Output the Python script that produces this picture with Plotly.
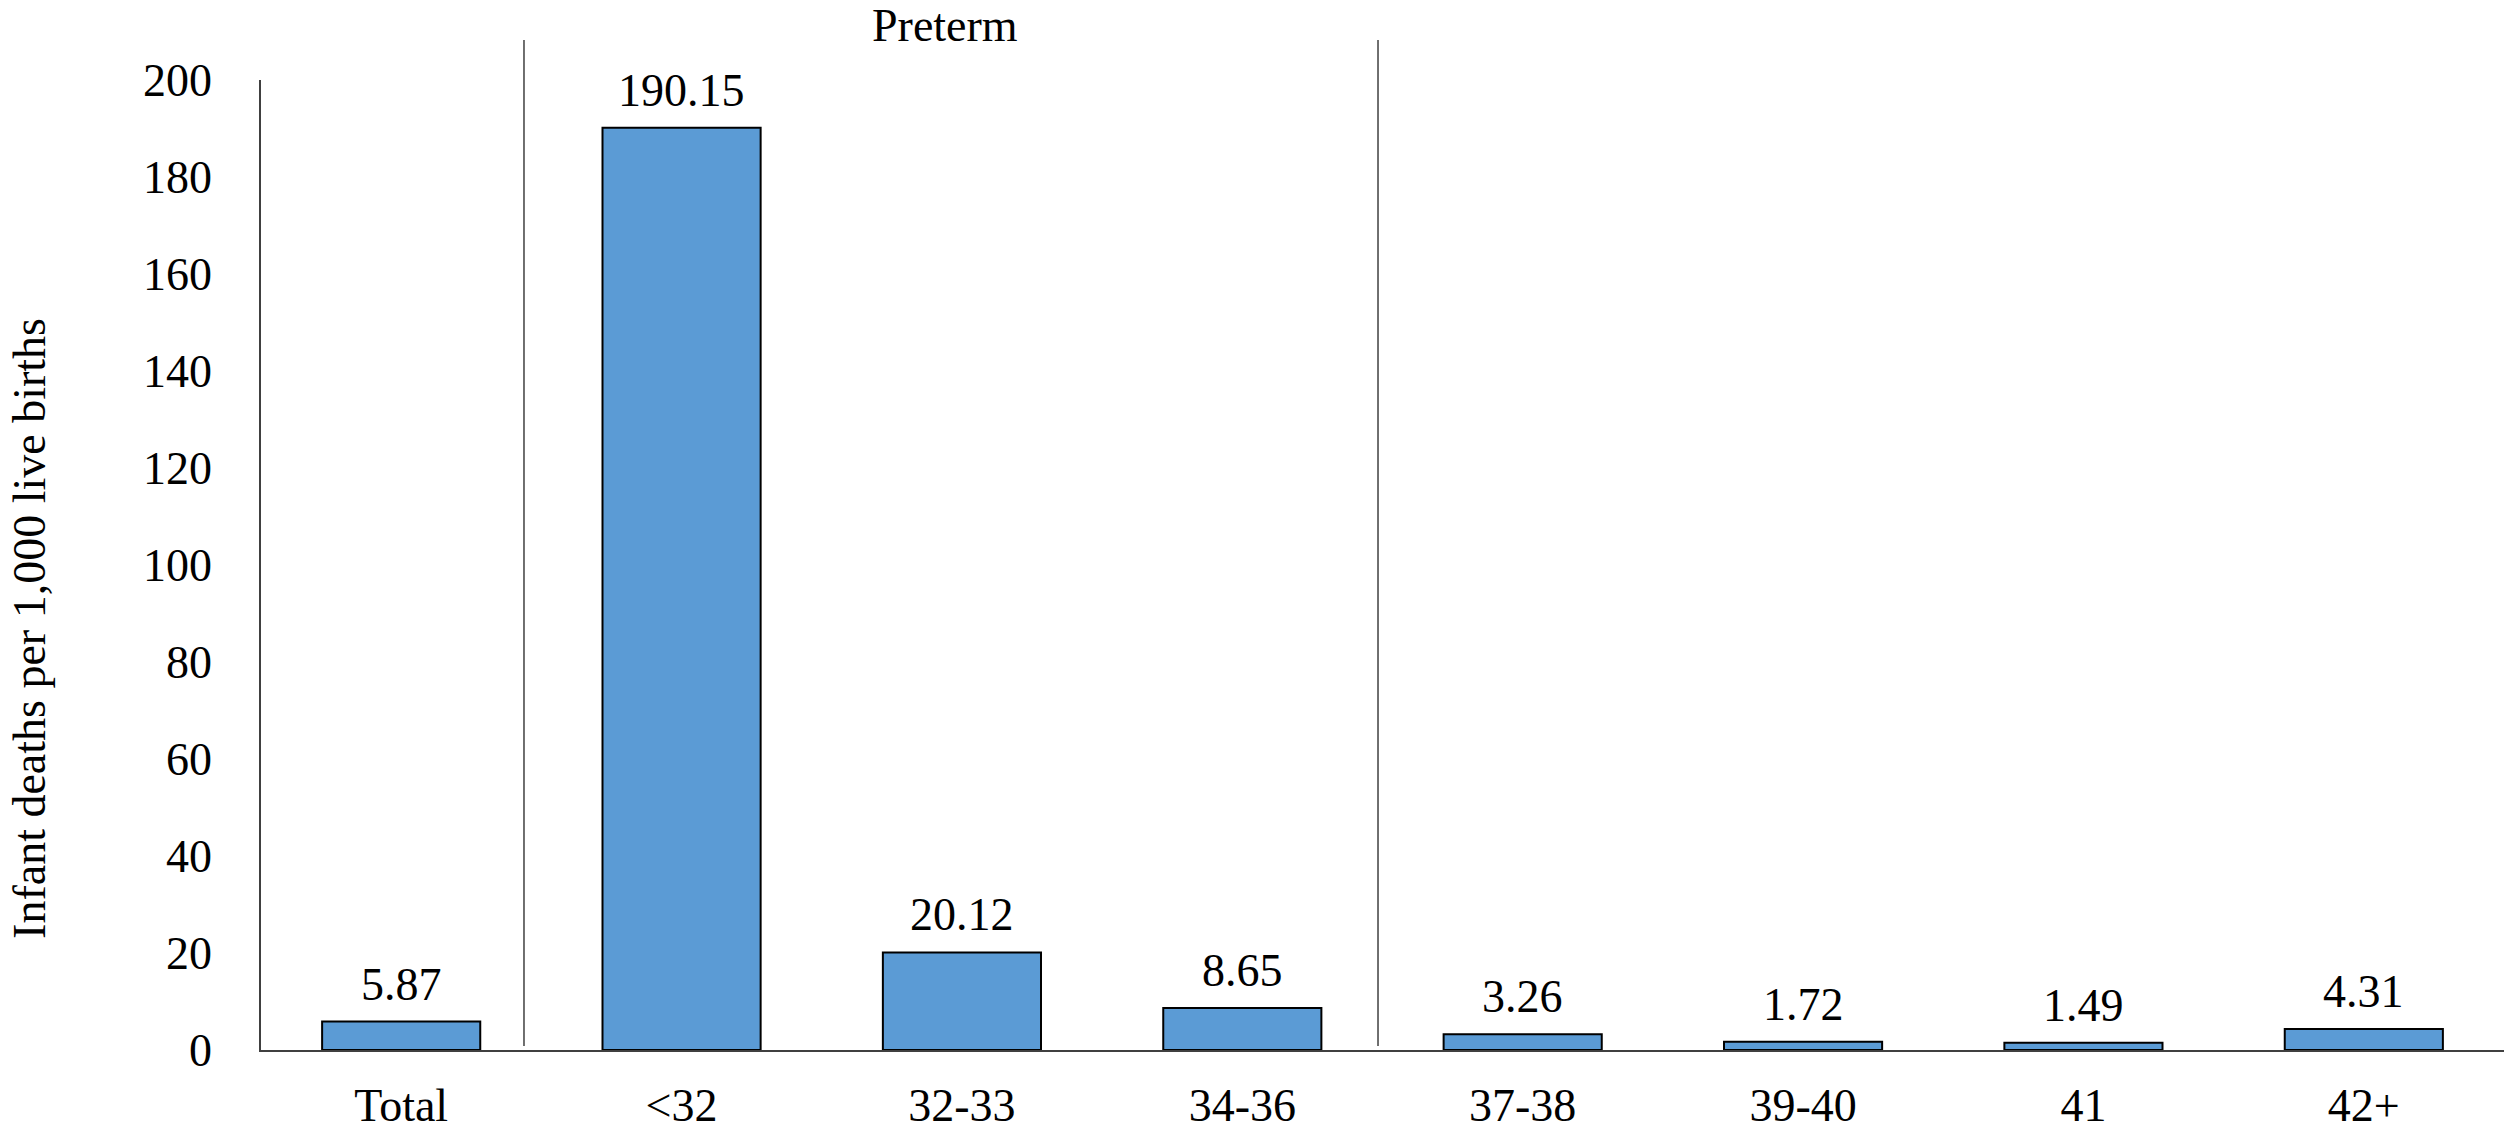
import plotly.graph_objects as go

# Infant mortality rate by gestational age (weeks)
categories = ["Total", "<32", "32-33", "34-36", "37-38", "39-40", "41", "42+"]
rates = [5.87, 190.15, 20.12, 8.65, 3.26, 1.72, 1.49, 4.31]
y_ticks = [0, 20, 40, 60, 80, 100, 120, 140, 160, 180, 200]

FONT = "Liberation Serif, Times New Roman, serif"
FS = 46

fig = go.Figure()
fig.add_trace(go.Bar(
    x=categories,
    y=rates,
    marker=dict(color="#5B9BD5", line=dict(color="#000000", width=2)),
    showlegend=False,
    hoverinfo="x+y",
))

# value labels above each bar (positioned by category index)
for i, v in enumerate(rates):
    fig.add_annotation(
        x=i, y=v, xref="x", yref="y",
        text=f"{v:.2f}", showarrow=False,
        yanchor="bottom", yshift=10,
        font=dict(family=FONT, size=FS, color="#000000"),
    )

# separators around the preterm group
for xpos in (0.438, 3.484):
    fig.add_shape(
        type="line", xref="x", yref="paper",
        x0=xpos, x1=xpos, y0=0.004, y1=1.0412,
        line=dict(color="#404040", width=1.5),
    )

fig.add_annotation(
    x=1.94, y=1.0557, xref="x", yref="paper",
    text="Preterm", showarrow=False,
    xanchor="center", yanchor="middle",
    font=dict(family=FONT, size=FS, color="#000000"),
)

fig.add_annotation(
    x=-0.1035, y=0.435, xref="paper", yref="paper",
    text="Infant deaths per 1,000 live births", showarrow=False,
    textangle=-90, xanchor="center", yanchor="middle",
    font=dict(family=FONT, size=FS, color="#000000"),
)

fig.update_layout(
    width=2514, height=1130,
    margin=dict(l=261, r=10, t=80, b=80, autoexpand=False),
    paper_bgcolor="#ffffff", plot_bgcolor="#ffffff",
    bargap=0.436,
    font=dict(family=FONT, size=FS, color="#000000"),
)
fig.update_xaxes(
    type="category", range=[-0.5, 7.5], automargin=False,
    showline=True, linecolor="#404040", linewidth=2,
    showgrid=False, ticks="", ticklabelstandoff=14,
    tickfont=dict(family=FONT, size=FS, color="#000000"),
)
fig.update_yaxes(
    range=[0, 200], tickvals=y_ticks, automargin=False,
    showline=True, linecolor="#404040", linewidth=1.5,
    showgrid=False, zeroline=False, ticks="", ticklabelstandoff=38,
    tickfont=dict(family=FONT, size=FS, color="#000000"),
)

fig.write_html("out.html")
